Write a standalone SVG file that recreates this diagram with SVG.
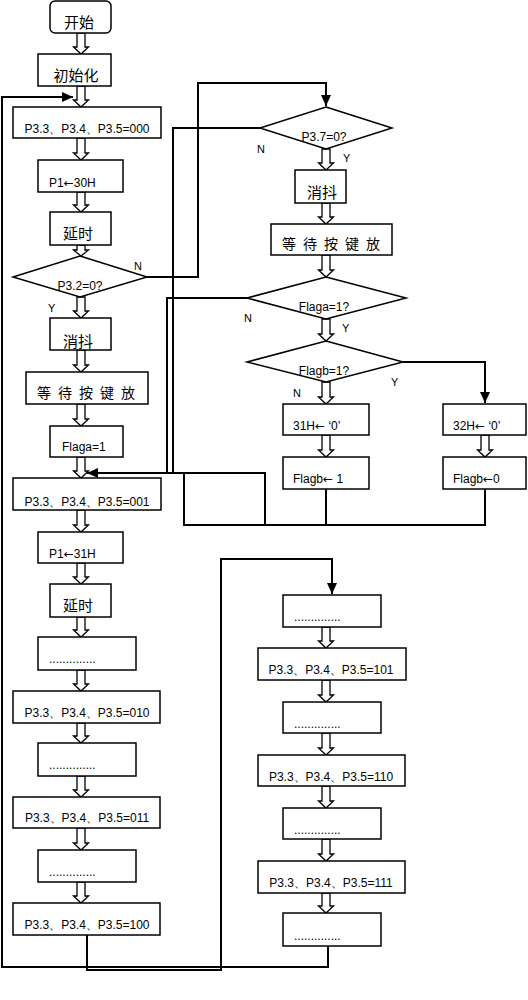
<svg xmlns="http://www.w3.org/2000/svg" width="528" height="1000" viewBox="0 0 528 1000">
<style>
.bx{fill:#fff;stroke:#000;stroke-width:1.5}
.ln{fill:none;stroke:#000;stroke-width:2}
.ha{fill:#fff;stroke:#000;stroke-width:1.3}
.cn{font-family:"Noto Sans CJK SC",sans-serif;font-size:15px;fill:#000}
.en{font-family:"Liberation Sans",Arial,sans-serif;font-size:12px;fill:#000}
.lb{font-family:"Liberation Sans",Arial,sans-serif;font-size:11px;fill:#000}
.ar{font-family:"DejaVu Sans",sans-serif;font-size:12px}
.m{text-anchor:middle}
</style>
<defs>
<marker id="ah" markerUnits="userSpaceOnUse" markerWidth="11" markerHeight="10" refX="11" refY="5" orient="auto"><path d="M0,0L11,5L0,10z" fill="#000"/></marker>
</defs>
<rect width="528" height="1000" fill="#fff"/>
<g id="connectors">
<path class="ln" d="M328 946V967H2V97H73" marker-end="url(#ah)"/>
<path class="ln" d="M147 277H198V83H326V106" marker-end="url(#ah)"/>
<path class="ln" d="M260 128H173V473"/>
<path class="ln" d="M247 298H167V473"/>
<path class="ln" d="M265 525V473H87" marker-end="url(#ah)"/>
<path class="ln" d="M403 362H485V403" marker-end="url(#ah)"/>
<path class="ln" d="M326 489V525"/>
<path class="ln" d="M485 489V525H184V473"/>
<path class="ln" d="M87 935V970H221V559H332V594" marker-end="url(#ah)"/>
<path class="ha" d="M77 33V47H73.5L81 54L88.5 47H85V33Z"/>
<path class="ha" d="M77 86V100H73.5L81 107L88.5 100H85V86Z"/>
<path class="ha" d="M77 138V153H73.5L81 160L88.5 153H85V138Z"/>
<path class="ha" d="M77 192V205H73.5L81 212L88.5 205H85V192Z"/>
<path class="ha" d="M77 245V250H73.5L81 256L88.5 250H85V245Z"/>
<path class="ha" d="M77 297V311H73.5L81 318L88.5 311H85V297Z"/>
<path class="ha" d="M77 350V365H73.5L81 372L88.5 365H85V350Z"/>
<path class="ha" d="M77 404V419H73.5L81 426L88.5 419H85V404Z"/>
<path class="ha" d="M77 457V471H73.5L81 478L88.5 471H85V457Z"/>
<path class="ha" d="M77 510V525H73.5L81 532L88.5 525H85V510Z"/>
<path class="ha" d="M77 563V577H73.5L81 584L88.5 577H85V563Z"/>
<path class="ha" d="M77 617V630H73.5L81 637L88.5 630H85V617Z"/>
<path class="ha" d="M77 670V684H73.5L81 691L88.5 684H85V670Z"/>
<path class="ha" d="M77 723V736H73.5L81 743L88.5 736H85V723Z"/>
<path class="ha" d="M77 776V790H73.5L81 797L88.5 790H85V776Z"/>
<path class="ha" d="M77 828V843H73.5L81 850L88.5 843H85V828Z"/>
<path class="ha" d="M77 882V896H73.5L81 903L88.5 896H85V882Z"/>
<path class="ha" d="M322 149V163H318.5L326 170L333.5 163H330V149Z"/>
<path class="ha" d="M322 203V217H318.5L326 224L333.5 217H330V203Z"/>
<path class="ha" d="M322 255V270H318.5L326 277L333.5 270H330V255Z"/>
<path class="ha" d="M322 319V334H318.5L326 341L333.5 334H330V319Z"/>
<path class="ha" d="M322 382V397H318.5L326 404L333.5 397H330V382Z"/>
<path class="ha" d="M322 435V450H318.5L326 457L333.5 450H330V435Z"/>
<path class="ha" d="M322 627V641H318.5L326 648L333.5 641H330V627Z"/>
<path class="ha" d="M322 680V695H318.5L326 702L333.5 695H330V680Z"/>
<path class="ha" d="M322 733V748H318.5L326 755L333.5 748H330V733Z"/>
<path class="ha" d="M322 786V801H318.5L326 808L333.5 801H330V786Z"/>
<path class="ha" d="M322 839V854H318.5L326 861L333.5 854H330V839Z"/>
<path class="ha" d="M322 893V906H318.5L326 913L333.5 906H330V893Z"/>
<path class="ha" d="M481 435V450H477.5L485 457L492.5 450H489V435Z"/>
<text class="lb" x="134" y="270">N</text>
<text class="lb" x="48" y="312">Y</text>
<text class="lb" x="257" y="153">N</text>
<text class="lb" x="343" y="162">Y</text>
<text class="lb" x="244" y="322">N</text>
<text class="lb" x="342" y="332">Y</text>
<text class="lb" x="293" y="397">N</text>
<text class="lb" x="391" y="386">Y</text>
</g>
<g id="start"><rect class="bx" x="50" y="1" width="61" height="32" rx="5"/><text class="cn m" x="79" y="28">开始</text></g>
<g id="init"><rect class="bx" x="38" y="54" width="73" height="32"/><text class="cn m" x="76" y="81">初始化</text></g>
<g id="p000"><rect class="bx" x="13" y="107" width="148" height="31"/><text class="en m" x="87" y="133">P3.3、P3.4、P3.5=000</text></g>
<g id="p1-30h"><rect class="bx" x="38" y="160" width="85" height="32"/><text class="en" x="49" y="187">P1<tspan class="ar">←</tspan>30H</text></g>
<g id="delay1"><rect class="bx" x="50" y="212" width="61" height="33"/><text class="cn m" x="78" y="239">延时</text></g>
<g id="d-p32"><polygon class="bx" points="80,256 147,277 80,297 13,277"/><text class="en m" x="80" y="290">P3.2=0?</text></g>
<g id="debounce1"><rect class="bx" x="50" y="318" width="61" height="32"/><text class="cn m" x="78" y="347">消抖</text></g>
<g id="wait1"><rect class="bx" x="26" y="372" width="122" height="32"/><text class="cn" x="37" y="398" style="font-size:14px;letter-spacing:7px">等待按键放</text></g>
<g id="flaga1"><rect class="bx" x="50" y="426" width="73" height="31"/><text class="en" x="62" y="451">Flaga=1</text></g>
<g id="p001"><rect class="bx" x="13" y="478" width="148" height="32"/><text class="en m" x="87" y="506">P3.3、P3.4、P3.5=001</text></g>
<g id="p1-31h"><rect class="bx" x="38" y="532" width="85" height="31"/><text class="en" x="49" y="558">P1<tspan class="ar">←</tspan>31H</text></g>
<g id="delay2"><rect class="bx" x="50" y="584" width="61" height="33"/><text class="cn m" x="78" y="611">延时</text></g>
<g id="dots1"><rect class="bx" x="38" y="637" width="98" height="33"/><text class="en" x="49" y="663">..............</text></g>
<g id="p010"><rect class="bx" x="13" y="691" width="147" height="32"/><text class="en m" x="87" y="717">P3.3、P3.4、P3.5=010</text></g>
<g id="dots2"><rect class="bx" x="38" y="743" width="98" height="33"/><text class="en" x="49" y="769">..............</text></g>
<g id="p011"><rect class="bx" x="13" y="797" width="147" height="31"/><text class="en m" x="87" y="822">P3.3、P3.4、P3.5=011</text></g>
<g id="dots3"><rect class="bx" x="38" y="850" width="98" height="32"/><text class="en" x="49" y="876">..............</text></g>
<g id="p100"><rect class="bx" x="13" y="903" width="147" height="32"/><text class="en m" x="87" y="929">P3.3、P3.4、P3.5=100</text></g>
<g id="d-p37"><polygon class="bx" points="326,107 392,128 326,149 260,128"/><text class="en m" x="324" y="141">P3.7=0?</text></g>
<g id="debounce2"><rect class="bx" x="295" y="170" width="51" height="33"/><text class="cn m" x="322" y="198">消抖</text></g>
<g id="wait2"><rect class="bx" x="271" y="224" width="121" height="31"/><text class="cn" x="282" y="249" style="font-size:14px;letter-spacing:7px">等待按键放</text></g>
<g id="d-flaga"><polygon class="bx" points="326,277 406,298 326,319 247,298"/><text class="en m" x="324" y="311">Flaga=1?</text></g>
<g id="d-flagb"><polygon class="bx" points="326,341 403,362 326,382 247,362"/><text class="en m" x="324" y="375">Flagb=1?</text></g>
<g id="h31"><rect class="bx" x="283" y="404" width="86" height="31"/><text class="en" x="293" y="430">31H<tspan class="ar">←</tspan> ‘0’</text></g>
<g id="flagb1"><rect class="bx" x="283" y="457" width="86" height="32"/><text class="en" x="293" y="483">Flagb<tspan class="ar">←</tspan> 1</text></g>
<g id="h32"><rect class="bx" x="443" y="404" width="83" height="31"/><text class="en" x="453" y="430">32H<tspan class="ar">←</tspan> ‘0’</text></g>
<g id="flagb0"><rect class="bx" x="443" y="457" width="83" height="32"/><text class="en" x="453" y="483">Flagb<tspan class="ar">←</tspan>0</text></g>
<g id="rdots1"><rect class="bx" x="283" y="595" width="98" height="32"/><text class="en" x="294" y="621">..............</text></g>
<g id="p101"><rect class="bx" x="258" y="648" width="148" height="32"/><text class="en m" x="331" y="674">P3.3、P3.4、P3.5=101</text></g>
<g id="rdots2"><rect class="bx" x="283" y="702" width="98" height="31"/><text class="en" x="294" y="728">..............</text></g>
<g id="p110"><rect class="bx" x="258" y="755" width="147" height="31"/><text class="en m" x="331" y="781">P3.3、P3.4、P3.5=110</text></g>
<g id="rdots3"><rect class="bx" x="283" y="808" width="98" height="31"/><text class="en" x="294" y="834">..............</text></g>
<g id="p111"><rect class="bx" x="258" y="861" width="147" height="32"/><text class="en m" x="331" y="887">P3.3、P3.4、P3.5=111</text></g>
<g id="rdots4"><rect class="bx" x="283" y="913" width="98" height="33"/><text class="en" x="294" y="940">..............</text></g>
</svg>
